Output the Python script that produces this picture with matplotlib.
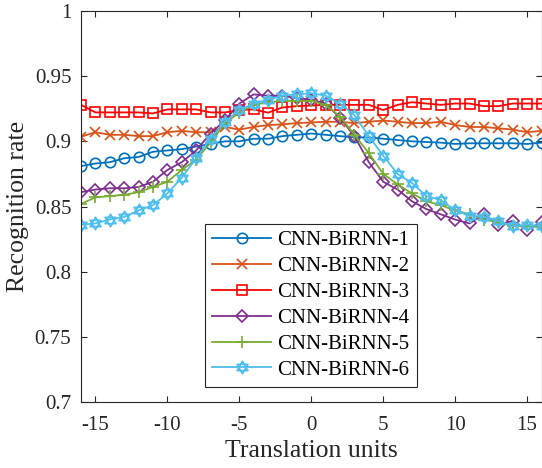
#!/usr/bin/env python3
"""Recognition rate vs. translation units for the six CNN-BiRNN variants."""

import matplotlib

matplotlib.use("Agg")
import matplotlib.pyplot as plt  # noqa: E402
from matplotlib.path import Path  # noqa: E402

plt.rcParams["font.family"] = ["Liberation Serif", "DejaVu Serif"]
plt.rcParams["axes.unicode_minus"] = False

shifts = list(range(-16, 17))

cnn_birnn_1 = [0.881, 0.883, 0.884, 0.887, 0.888, 0.892, 0.893, 0.894, 0.896, 0.898,
               0.900, 0.900, 0.902, 0.902, 0.904, 0.905, 0.906, 0.905, 0.904, 0.903,
               0.903, 0.902, 0.901, 0.900, 0.8995, 0.899, 0.898, 0.8985, 0.8985, 0.8985,
               0.8985, 0.898, 0.899]
cnn_birnn_2 = [0.9035, 0.907, 0.905, 0.905, 0.904, 0.904, 0.907, 0.908, 0.907, 0.907,
               0.911, 0.909, 0.911, 0.9125, 0.913, 0.914, 0.9145, 0.915, 0.915, 0.914,
               0.915, 0.916, 0.915, 0.914, 0.914, 0.915, 0.9125, 0.911, 0.911, 0.910,
               0.909, 0.907, 0.908]
cnn_birnn_3 = [0.928, 0.9222, 0.9222, 0.9222, 0.9222, 0.9214, 0.9245, 0.9245, 0.9245, 0.9222,
               0.9222, 0.924, 0.9245, 0.922, 0.926, 0.927, 0.9275, 0.928, 0.928, 0.928,
               0.928, 0.924, 0.928, 0.930, 0.929, 0.928, 0.929, 0.929, 0.927, 0.927,
               0.929, 0.929, 0.929]
cnn_birnn_4 = [0.861, 0.863, 0.864, 0.864, 0.865, 0.869, 0.878, 0.884, 0.893, 0.906,
               0.916, 0.929, 0.936, 0.935, 0.935, 0.933, 0.932, 0.929, 0.918, 0.904,
               0.884, 0.869, 0.863, 0.854, 0.848, 0.844, 0.840, 0.837, 0.844, 0.836,
               0.839, 0.832, 0.838]
cnn_birnn_5 = [0.852, 0.857, 0.858, 0.859, 0.861, 0.865, 0.869, 0.878, 0.886, 0.899,
               0.914, 0.922, 0.928, 0.930, 0.931, 0.931, 0.931, 0.928, 0.919, 0.905,
               0.891, 0.875, 0.867, 0.860, 0.854, 0.851, 0.847, 0.844, 0.840, 0.838,
               0.835, 0.835, 0.834]
cnn_birnn_6 = [0.836, 0.837, 0.840, 0.842, 0.847, 0.851, 0.860, 0.872, 0.887, 0.902,
               0.915, 0.924, 0.929, 0.932, 0.935, 0.936, 0.937, 0.935, 0.929, 0.920,
               0.904, 0.889, 0.875, 0.868, 0.858, 0.855, 0.847, 0.843, 0.842, 0.839,
               0.835, 0.836, 0.835]

labels = ["CNN-BiRNN-1", "CNN-BiRNN-2", "CNN-BiRNN-3",
          "CNN-BiRNN-4", "CNN-BiRNN-5", "CNN-BiRNN-6"]
xticks = [-15, -10, -5, 0, 5, 10, 15]
yticks = [0.7, 0.75, 0.8, 0.85, 0.9, 0.95, 1.0]
ytick_labels = ["0.7", "0.75", "0.8", "0.85", "0.9", "0.95", "1"]

# MATLAB-style hexagram: two overlapping triangles
hexagram = Path(
    [(0, 1), (-0.866, -0.5), (0.866, -0.5), (0, 1),
     (0, -1), (0.866, 0.5), (-0.866, 0.5), (0, -1)],
    [Path.MOVETO, Path.LINETO, Path.LINETO, Path.CLOSEPOLY,
     Path.MOVETO, Path.LINETO, Path.LINETO, Path.CLOSEPOLY],
)

series = [cnn_birnn_1, cnn_birnn_2, cnn_birnn_3, cnn_birnn_4, cnn_birnn_5, cnn_birnn_6]
colors = ["#0072BD", "#D95319", "#FF0000", "#7E2F8E", "#77AC30", "#4DBEEE"]
markers = ["o", "x", "s", "D", "+", hexagram]
sizes = [7.5, 7, 6.5, 6.5, 8, 9]

fig = plt.figure(figsize=(5.42, 4.68), dpi=100)
ax = fig.add_axes([81 / 542, 1 - 402 / 468, 460.5 / 542, 391 / 468])

for ys, c, m, s, lab in zip(series, colors, markers, sizes, labels):
    ax.plot(shifts, ys, color=c, marker=m, markersize=s, markerfacecolor="none",
            markeredgecolor=c, markeredgewidth=1.2, linewidth=1.3, label=lab)

ax.set_xlim(-16, 16)
ax.set_ylim(0.7, 1.0)
ax.set_xticks(xticks)
ax.set_yticks(yticks)
ax.set_yticklabels(ytick_labels)
ax.tick_params(direction="in", top=True, right=True, labelsize=15,
               colors="#262626", length=4, width=0.8)
ax.tick_params(axis="x", pad=10)
ax.tick_params(axis="y", pad=7)
for sp in ax.spines.values():
    sp.set_color("#262626")
    sp.set_linewidth(0.8)

ax.set_xlabel("Translation units", fontsize=18.5, color="#262626", labelpad=4)
ax.set_ylabel("Recognition rate", fontsize=18.5, color="#262626", labelpad=4)

leg = ax.legend(loc="upper left", bbox_to_anchor=(205 / 542, 1 - 224 / 468),
                bbox_transform=fig.transFigure, borderaxespad=0, fontsize=15,
                fancybox=False, framealpha=1, edgecolor="#262626",
                handlelength=2.85, handletextpad=0.3, labelspacing=0.3,
                borderpad=0.33)
leg.get_frame().set_linewidth(0.8)

fig.savefig("out.png", dpi=100)
